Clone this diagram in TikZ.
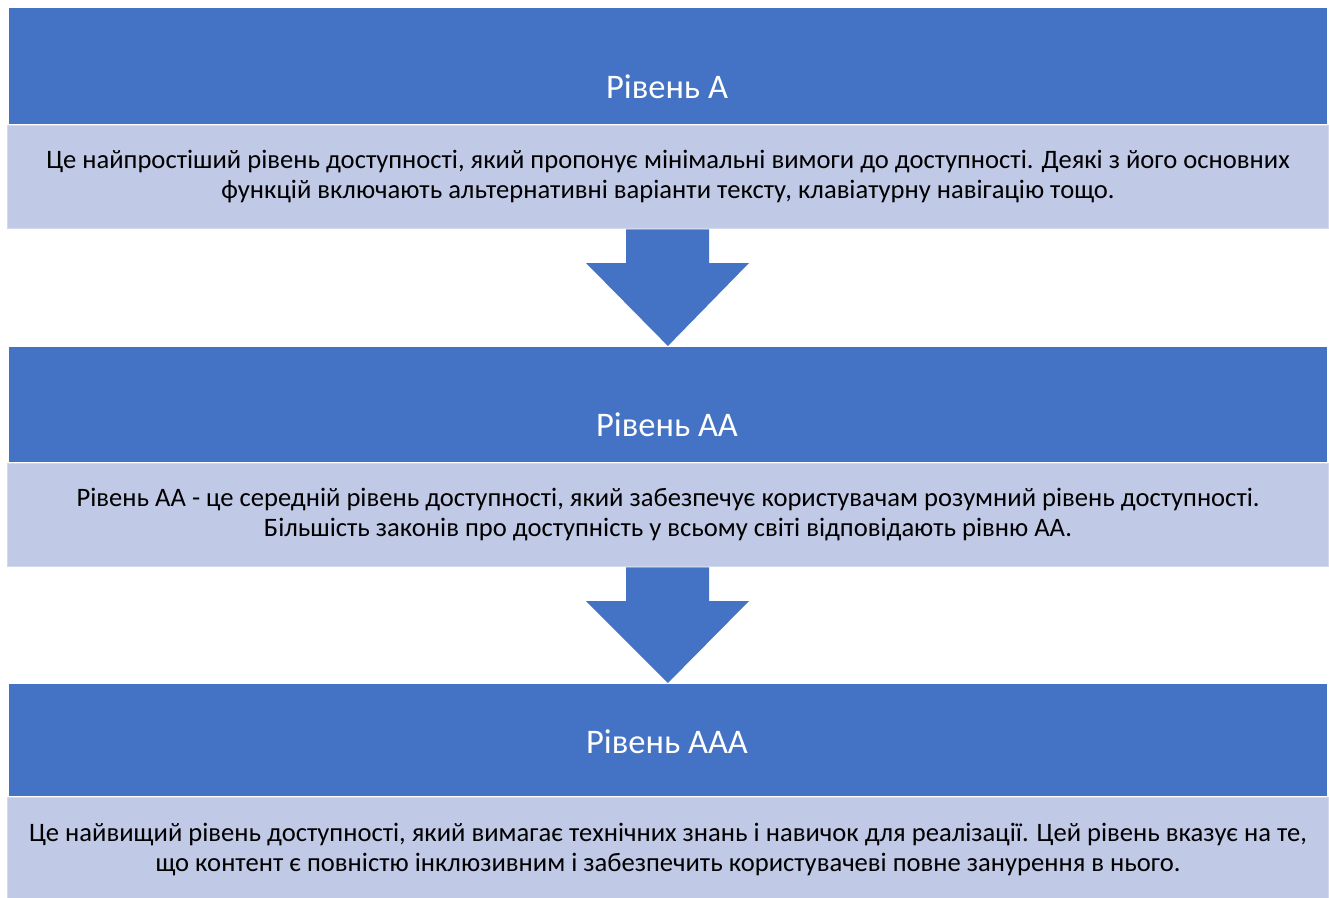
\documentclass[tikz,border=0pt]{standalone}
\usepackage{fontspec}
\setmainfont{Carlito}
\definecolor{hdrblue}{HTML}{4472C4}
\definecolor{bodyfill}{HTML}{C0C9E5}
\definecolor{bodyline}{HTML}{D2D9EE}
\begin{document}
\begin{tikzpicture}[x=1pt,y=-1pt,
  hdrbox/.style={fill=hdrblue, draw=white, line width=0.8pt, minimum width=1319pt, inner sep=0pt, anchor=north west},
  titletext/.style={text=white, inner sep=0pt, font=\fontsize{34.5}{40}\selectfont},
  bodybox/.style={fill=bodyfill, draw=bodyline, line width=1.5pt, minimum width=1321pt, minimum height=103pt, inner sep=0pt, align=center, font=\fontsize{26.6}{30}\selectfont, anchor=north west},
  downarrow/.style={fill=hdrblue, draw=none}]
\useasboundingbox[fill=white] (0,0) rectangle (1329,897);
% level A
\node[hdrbox, minimum height=117pt] (h1) at (8,7) {};
\node[titletext] (t1) at (667,87) {Рівень A};
\node[bodybox] (b1) at (6.75,124.75) {Це найпростіший рівень доступності, який пропонує мінімальні вимоги до доступності. Деякі з його основних\\функцій включають альтернативні варіанти тексту, клавіатурну навігацію тощо.};
% level AA
\node[hdrbox, minimum height=116pt] (h2) at (8,346) {};
\node[titletext] (t2) at (667,425) {Рівень AA};
\node[bodybox] (b2) at (6.75,462.75) {Рівень AA - це середній рівень доступності, який забезпечує користувачам розумний рівень доступності.\\Більшість законів про доступність у всьому світі відповідають рівню AA.};
% level AAA
\node[hdrbox, minimum height=113pt] (h3) at (8,683) {};
\node[titletext] (t3) at (667,742) {Рівень AAA};
\node[bodybox, minimum height=104pt] (b3) at (6.75,796.75) {Це найвищий рівень доступності, який вимагає технічних знань і навичок для реалізації. Цей рівень вказує на те,\\що контент є повністю інклюзивним і забезпечить користувачеві повне занурення в нього.};
% arrows
\fill[downarrow] (b1.south -| 626,0) -- (b1.south -| 709,0) -- (709,263) -- (749,263) -- (h2.north) -- (586,263) -- (626,263) -- cycle;
\fill[downarrow] (b2.south -| 626,0) -- (b2.south -| 709,0) -- (709,601) -- (749,601) -- (h3.north) -- (586,601) -- (626,601) -- cycle;
\end{tikzpicture}
\end{document}
